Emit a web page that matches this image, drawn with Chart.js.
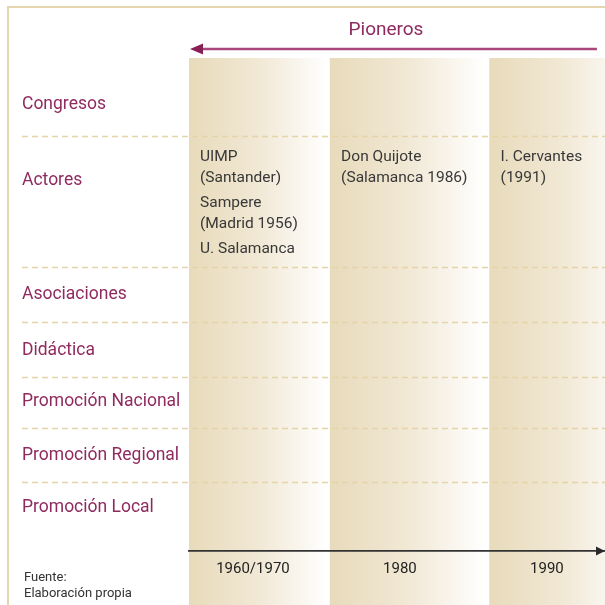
<!DOCTYPE html>
<html><head><meta charset="utf-8">
<script src="https://cdn.jsdelivr.net/npm/chart.js@4.4.1/dist/chart.umd.min.js"></script>
<style>html,body{margin:0;padding:0;background:#fff}#wrap{width:605px;height:605px}</style>
</head><body><div id="wrap"><canvas id="c" width="605" height="605"></canvas></div>
<script>
// ---- data ----
const rowNames = ['Congresos','Actores','Asociaciones','Didáctica','Promoción Nacional','Promoción Regional','Promoción Local'];
const periodLabels = ['1960/1970','1980','1990'];
const periodYears = [1970, 1980, 1990];
const periodStart = [1965.65, 1975.25, 1986.1];
const periodEnd = [1975.1, 1985.8, 1996.0];
const actoresCol1 = [['UIMP','(Santander)'],['Sampere','(Madrid 1956)'],['U. Salamanca']];
const actoresCol2 = [['Don Quijote','(Salamanca 1986)']];
const actoresCol3 = [['I. Cervantes','(1991)']];
const actoresCells = [actoresCol1, actoresCol2, actoresCol3];
const headerLabel = 'Pioneros';
const headerSpan = [1993.4, 1965.72];
const headerLabelYear = 1979.05;
const sourceLines = ['Fuente:','Elaboración propia'];

// ---- layout (y units of the row axis) ----
const LAYOUT = {
  yMax: 547, xMin: 1965.65, xMax: 1993.95,
  rowEdges: [78, 209, 264, 319, 370, 424],
  rowLabelAt: [46.5, 122.5, 236.5, 293, 343.5, 397.5, 449.5],
  axisAt: 493, firstLine: 99.5, lineStep: 21, itemGap: 4,
  sourceAt: [520, 536]
};
const FONT = "Roboto, 'Liberation Sans', Arial, sans-serif";
const MAROON = '#8f2a5f';

function bandFill(ctx, i) {
  const chart = ctx.chart; const xs = chart.scales.x;
  if (!chart.chartArea || !xs) return '#ece2c8';
  const x0 = xs.getPixelForValue(periodStart[i]), x1 = xs.getPixelForValue(periodEnd[i]);
  const g = chart.ctx.createLinearGradient(x0, 0, x1, 0);
  g.addColorStop(0, '#e8dbbb');
  g.addColorStop(0.5, '#f1e8d5');
  g.addColorStop(1, '#ffffff');
  return g;
}

const decor = {
  id: 'decor',
  beforeDraw(chart) {
    const c = chart.ctx;
    c.save();
    c.strokeStyle = '#e6d6ae'; c.lineWidth = 2;
    c.beginPath(); c.moveTo(8, 605); c.lineTo(8, 7); c.lineTo(605, 7); c.stroke();
    c.restore();
  },
  afterDatasetsDraw(chart) {
    const c = chart.ctx, xs = chart.scales.x, ys = chart.scales.y, a = chart.chartArea;
    c.save();
    c.strokeStyle = '#e4d4a8'; c.lineWidth = 1.5; c.setLineDash([6, 4]);
    LAYOUT.rowEdges.forEach(v => {
      const py = Math.round(ys.getPixelForValue(v)) + 0.5;
      c.beginPath(); c.moveTo(ys.left, py); c.lineTo(a.right, py); c.stroke();
    });
    c.setLineDash([]);
    c.font = '15.5px ' + FONT; c.fillStyle = '#383838'; c.textBaseline = 'middle'; c.textAlign = 'left';
    actoresCells.forEach((items, i) => {
      const px = xs.getPixelForValue(periodStart[i]) + 11;
      let yv = LAYOUT.firstLine;
      items.forEach(lines => {
        lines.forEach(t => { c.fillText(t, px, ys.getPixelForValue(yv)); yv += LAYOUT.lineStep; });
        yv += LAYOUT.itemGap;
      });
    });
    c.restore();
  },
  afterDraw(chart) {
    const c = chart.ctx, xs = chart.scales.x, ys = chart.scales.y, a = chart.chartArea;
    c.save();
    const ay = ys.getPixelForValue(LAYOUT.axisAt);
    c.fillStyle = '#2a2a2a';
    c.beginPath(); c.moveTo(a.right, ay); c.lineTo(a.right - 9, ay - 4.5); c.lineTo(a.right - 9, ay + 4.5); c.closePath(); c.fill();
    const hy = a.top - 9;
    const hx0 = xs.getPixelForValue(headerSpan[0]), hx1 = xs.getPixelForValue(headerSpan[1]);
    c.strokeStyle = '#a9467b'; c.lineWidth = 2.5;
    c.beginPath(); c.moveTo(hx0, hy); c.lineTo(hx1 + 10, hy); c.stroke();
    c.fillStyle = '#8a1f55';
    c.beginPath(); c.moveTo(hx1, hy); c.lineTo(hx1 + 13, hy - 5.5); c.lineTo(hx1 + 13, hy + 5.5); c.closePath(); c.fill();
    c.font = '19px ' + FONT; c.fillStyle = MAROON; c.textAlign = 'center'; c.textBaseline = 'middle';
    c.fillText(headerLabel, xs.getPixelForValue(headerLabelYear), a.top - 28);
    c.font = '13px ' + FONT; c.fillStyle = '#333'; c.textAlign = 'left';
    sourceLines.forEach((t, i) => c.fillText(t, ys.left + 2, ys.getPixelForValue(LAYOUT.sourceAt[i])));
    c.restore();
  }
};

const datasets = periodStart.map((s, i) => ({
  label: periodLabels[i],
  data: [[s, periodEnd[i]]],
  xAxisID: 'x', yAxisID: 'yBand',
  backgroundColor: ctx => bandFill(ctx, i),
  borderWidth: 0, barPercentage: 1, categoryPercentage: 1, grouped: false
}));

const noPad = s => { s.paddingTop = 0; s.paddingBottom = 0; };

new Chart(document.getElementById('c'), {
  type: 'bar',
  data: { datasets },
  options: {
    indexAxis: 'y',
    responsive: false, animation: false, devicePixelRatio: 1, events: [],
    layout: { padding: { top: 58, left: 22, right: 0, bottom: 0 } },
    plugins: { legend: { display: false }, tooltip: { enabled: false }, title: { display: false } },
    scales: {
      x: {
        type: 'linear', min: LAYOUT.xMin, max: LAYOUT.xMax, position: { y: LAYOUT.axisAt }, offset: false,
        grid: { display: false, drawTicks: false },
        border: { display: true, color: '#333', width: 1.8, z: 2 },
        afterBuildTicks: s => { s.ticks = periodYears.map(v => ({ value: v })); },
        afterFit: s => { s.paddingLeft = 0; s.paddingRight = 0; },
        ticks: { z: 2, padding: 9, color: '#222', font: { family: FONT, size: 15 }, autoSkip: false, maxRotation: 0,
          callback: v => periodLabels[periodYears.indexOf(v)] }
      },
      y: {
        type: 'linear', reverse: true, min: 0, max: LAYOUT.yMax, bounds: 'data', position: 'left', offset: false,
        grid: { display: false, drawTicks: false, offset: false }, border: { display: false },
        afterBuildTicks: s => { s.ticks = LAYOUT.rowLabelAt.map(v => ({ value: v })); },
        afterFit: s => { s.width = 167; noPad(s); },
        ticks: { crossAlign: 'far', autoSkip: false, color: MAROON, font: { family: FONT, size: 17.5 },
          callback: (v, i) => rowNames[i] }
      },
      yBand: { type: 'category', labels: ['band'], display: false, offset: true, afterFit: noPad }
    }
  },
  plugins: [decor]
});
</script></body></html>
